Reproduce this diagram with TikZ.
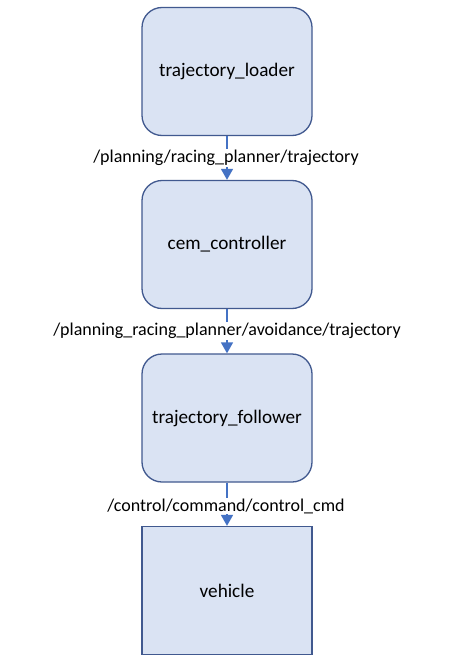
\documentclass[tikz,border=0pt]{standalone}
\usepackage{fontspec}
\setmainfont{Carlito}
\usetikzlibrary{arrows.meta}
\definecolor{boxfill}{HTML}{DAE3F3}
\definecolor{boxdraw}{HTML}{41598F}
\definecolor{arr}{HTML}{4472C4}
\begin{document}
\begin{tikzpicture}[x=1pt,y=-1pt,
  nodebox/.style={draw=boxdraw,fill=boxfill,line width=1.3pt,minimum width=170pt,minimum height=128pt,inner sep=0pt,font=\fontsize{19.2}{23}\selectfont,rounded corners=20pt},
  plainbox/.style={nodebox,sharp corners},
  lbl/.style={fill=white,inner sep=1pt,font=\fontsize{18}{22}\selectfont},
  conn/.style={draw=arr,line width=1.5pt,-{Triangle[width=12pt,length=11pt]}}]
\useasboundingbox[fill=white] (0,0) rectangle (450,663);
\node[nodebox] (a) at (227,71.5) {trajectory\_loader};
\node[nodebox] (b) at (227,244.5) {cem\_controller};
\node[nodebox] (c) at (227,418) {trajectory\_follower};
\node[plainbox] (d) at (227,590.5) {vehicle};
\draw[conn] (a) -- (b);
\draw[conn] (b) -- (c);
\draw[conn] (c) -- (d);
\node[lbl] (l1) at (226,158) {/planning/racing\_planner/trajectory};
\node[lbl] (l2) at (227,331) {/planning\_racing\_planner/avoidance/trajectory};
\node[lbl] (l3) at (226,506) {/control/command/control\_cmd};
\end{tikzpicture}
\end{document}
